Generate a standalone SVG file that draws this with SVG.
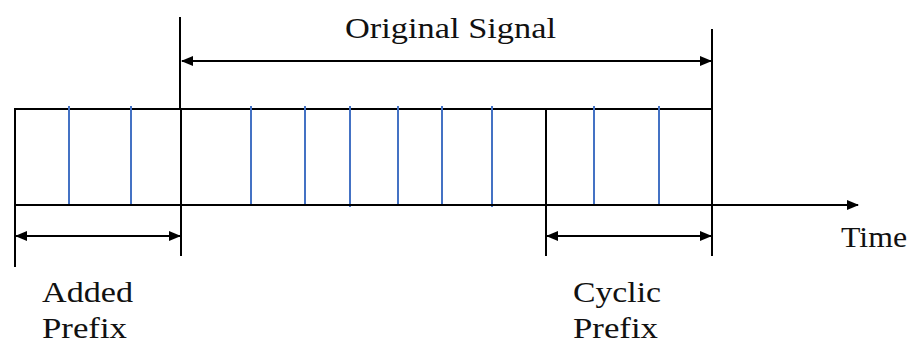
<svg xmlns="http://www.w3.org/2000/svg" width="910" height="345" viewBox="0 0 910 345">
  <style>
    .ln { stroke: #000; stroke-width: 2; fill: none; }
    .sub { stroke: #4472C4; stroke-width: 2; fill: none; }
    text { font-family: 'Liberation Serif', 'DejaVu Serif', 'Times New Roman', serif; font-size: 30px; fill: #111; }
  </style>
  <defs>
    <marker id="head" viewBox="0 0 12 10" refX="11" refY="5" markerWidth="12" markerHeight="10" markerUnits="userSpaceOnUse" orient="auto-start-reverse">
      <path d="M0,0 L12,5 L0,10 Z" fill="#000"/>
    </marker>
  </defs>
  <rect width="910" height="345" fill="#fff"/>

  <!-- symbol frame: added prefix, original signal, cyclic prefix -->
  <g id="frame">
    <line class="ln" x1="15" y1="109" x2="712" y2="109"/>
    <line class="ln" x1="15" y1="108" x2="15" y2="267"/>
    <line class="ln" x1="180" y1="17" x2="180" y2="109"/>
    <line class="ln" x1="181" y1="109" x2="181" y2="256"/>
    <line class="ln" x1="546" y1="109" x2="546" y2="256"/>
    <line class="ln" x1="712" y1="29" x2="712" y2="256"/>
  </g>

  <!-- sample markers -->
  <g id="samples">
    <line class="sub" x1="69" y1="106" x2="69" y2="204"/>
    <line class="sub" x1="131" y1="106" x2="131" y2="204"/>
    <line class="sub" x1="251" y1="106" x2="251" y2="204"/>
    <line class="sub" x1="305" y1="106" x2="305" y2="204"/>
    <line class="sub" x1="350" y1="106" x2="350" y2="207"/>
    <line class="sub" x1="398" y1="106" x2="398" y2="204"/>
    <line class="sub" x1="442" y1="106" x2="442" y2="204"/>
    <line class="sub" x1="492" y1="106" x2="492" y2="207"/>
    <line class="sub" x1="594" y1="106" x2="594" y2="204"/>
    <line class="sub" x1="659" y1="106" x2="659" y2="204"/>
  </g>

  <!-- time axis and span arrows -->
  <g id="connectors">
    <line class="ln" x1="15" y1="205" x2="858" y2="205" marker-end="url(#head)"/>
    <line class="ln" x1="182" y1="61" x2="711" y2="61" marker-start="url(#head)" marker-end="url(#head)"/>
    <line class="ln" x1="16" y1="236" x2="180" y2="236" marker-start="url(#head)" marker-end="url(#head)"/>
    <line class="ln" x1="547" y1="236" x2="711" y2="236" marker-start="url(#head)" marker-end="url(#head)"/>
  </g>

  <g id="label-original">
    <text x="345" y="38" textLength="211" lengthAdjust="spacingAndGlyphs">Original Signal</text>
  </g>
  <g id="label-time">
    <text x="841" y="247" textLength="66" lengthAdjust="spacingAndGlyphs">Time</text>
  </g>
  <g id="label-added">
    <text x="42" y="302" textLength="91" lengthAdjust="spacingAndGlyphs">Added</text>
    <text x="42" y="338" textLength="85" lengthAdjust="spacingAndGlyphs">Prefix</text>
  </g>
  <g id="label-cyclic">
    <text x="573" y="302" textLength="88" lengthAdjust="spacingAndGlyphs">Cyclic</text>
    <text x="573" y="338" textLength="85" lengthAdjust="spacingAndGlyphs">Prefix</text>
  </g>
</svg>
